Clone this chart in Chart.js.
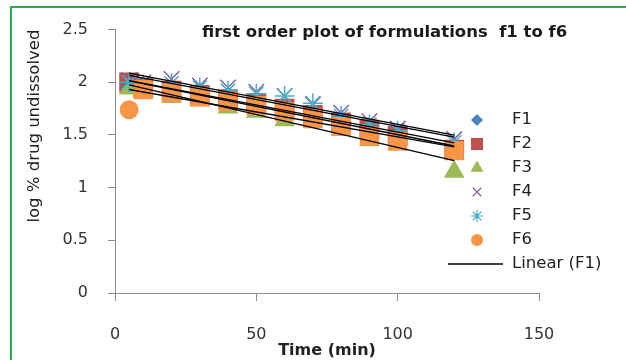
<!DOCTYPE html>
<html>
<head>
<meta charset="utf-8">
<script src="https://cdn.jsdelivr.net/npm/chart.js@4.4.1/dist/chart.umd.min.js"></script>
<style>
    body { margin: 0; background: #fff; overflow: hidden; }
    #dissChart { display: block; }
</style>
</head>
<body>
<canvas id="dissChart" width="626" height="360"></canvas>
<script>
// sampling times (min)
const times = [5, 10, 20, 30, 40, 50, 60, 70, 80, 90, 100, 120];

// log % drug undissolved for each formulation
const f1 = [2.00, 1.96, 1.93, 1.89, 1.85, 1.81, 1.76, 1.71, 1.64, 1.57, 1.51, 1.40];
const f2 = [2.00, 1.95, 1.92, 1.88, 1.84, 1.80, 1.75, 1.69, 1.62, 1.55, 1.49, 1.36];
const f3 = [1.94, 1.92, 1.86, 1.83, 1.76, 1.72, 1.64, 1.62, 1.55, 1.45, 1.42, 1.15];
const f4 = [2.02, 2.00, 2.03, 1.97, 1.95, 1.91, 1.87, 1.79, 1.71, 1.63, 1.56, 1.46];
const f5 = [2.00, 1.98, 1.99, 1.95, 1.92, 1.89, 1.87, 1.80, 1.68, 1.60, 1.54, 1.43];
const f6 = [1.74, 1.93, 1.90, 1.86, 1.82, 1.78, 1.72, 1.66, 1.58, 1.49, 1.44, 1.35];

const seriesNames = ['F1', 'F2', 'F3', 'F4', 'F5', 'F6'];
const seriesValues = [f1, f2, f3, f4, f5, f6];

const xTicks = [0, 50, 100, 150];
const yTicks = [0, 0.5, 1, 1.5, 2, 2.5];

const FONT = "'DejaVu Sans', sans-serif";

// marker look per formulation (F6 starts with a circle, then squares)
const markers = [
    { color: '#4f81bd', style: 'rectRot', radius: 9 },
    { color: '#c0504d', style: 'rect', radius: 14 },
    { color: '#9bbb59', style: 'triangle', radius: 12 },
    { color: '#8064a2', style: 'crossRot', radius: 11 },
    { color: '#4bacc6', style: 'star', radius: 10 },
    {
        color: '#f79646',
        style: times.map((_, j) => j === 0 ? 'circle' : 'rect'),
        radius: times.map((_, j) => j === 0 ? 9.5 : 13.5)
    }
];

// LEAST SQUARES LINE
function fitLine(xs, ys) {
    let n = xs.length;
    let mx = xs.reduce((a, b) => a + b, 0) / n;
    let my = ys.reduce((a, b) => a + b, 0) / n;
    let sxy = 0, sxx = 0;
    for (let i = 0; i < n; i++) {
        sxy += (xs[i] - mx) * (ys[i] - my);
        sxx += (xs[i] - mx) * (xs[i] - mx);
    }
    let slope = sxy / sxx;
    return { slope: slope, intercept: my - slope * mx };
}

const pointSets = seriesValues.map((vals, i) => ({
    label: seriesNames[i],
    data: times.map((t, j) => ({ x: t, y: vals[j] })),
    backgroundColor: markers[i].color,
    borderColor: markers[i].color,
    pointStyle: markers[i].style,
    pointRadius: markers[i].radius,
    pointBorderWidth: markers[i].style === 'crossRot' || markers[i].style === 'star' ? 1.5 : 0,
    order: 7 - i
}));

const trendSets = seriesValues.map((vals, i) => {
    let fit = fitLine(times, vals);
    let t0 = times[0];
    let t1 = times[times.length - 1];
    return {
        label: 'Linear (' + seriesNames[i] + ')',
        data: [
            { x: t0, y: fit.intercept + fit.slope * t0 },
            { x: t1, y: fit.intercept + fit.slope * t1 }
        ],
        showLine: true,
        borderColor: '#000',
        borderWidth: 1.3,
        pointRadius: 0,
        order: 0
    };
});

// green frame around the picture
const frame = {
    id: 'frame',
    beforeDraw(chart) {
        const ctx = chart.ctx;
        ctx.save();
        ctx.strokeStyle = '#22b14c';
        ctx.lineWidth = 2;
        ctx.beginPath();
        ctx.moveTo(11, chart.height);
        ctx.lineTo(11, 7);
        ctx.lineTo(chart.width, 7);
        ctx.stroke();
        ctx.restore();
    }
};

// title and legend drawn in the spots Excel puts them
const decorations = {
    id: 'decorations',
    afterDraw(chart) {
        const ctx = chart.ctx;
        ctx.save();
        ctx.fillStyle = '#1a1a1a';
        ctx.font = 'bold 16.5px ' + FONT;
        ctx.textBaseline = 'middle';
        ctx.textAlign = 'left';
        ctx.fillText('first order plot of formulations  f1 to f6', 202, 33);

        const legendX = 477;
        const textX = 512;
        let y = 120;
        ctx.font = '16.5px ' + FONT;
        markers.forEach((m, i) => {
            ctx.fillStyle = m.color;
            ctx.strokeStyle = m.color;
            ctx.lineWidth = 1.2;
            let style = Array.isArray(m.style) ? m.style[0] : m.style;
            let r = style === 'rect' ? 8.5 : (style === 'triangle' ? 7.5 : 6);
            let bw = (style === 'crossRot' || style === 'star') ? 1.2 : 0;
            Chart.helpers.drawPoint(ctx, { pointStyle: style, radius: r, rotation: 0, borderWidth: bw }, legendX, y);
            ctx.fillStyle = '#222';
            ctx.fillText(seriesNames[i], textX, y);
            y += 24;
        });
        ctx.strokeStyle = '#000';
        ctx.lineWidth = 1.5;
        ctx.beginPath();
        ctx.moveTo(448, y);
        ctx.lineTo(503, y);
        ctx.stroke();
        ctx.fillStyle = '#222';
        ctx.fillText(trendSets[0].label, textX, y);
        ctx.restore();
    }
};

const ctx = document.getElementById('dissChart');

new Chart(ctx, {
    type: 'scatter',
    data: { datasets: trendSets.concat(pointSets) },
    options: {
        responsive: false,
        animation: false,
        layout: { padding: { top: 28, right: 87, bottom: 0, left: 0 } },
        plugins: {
            legend: { display: false },
            tooltip: { enabled: false }
        },
        scales: {
            x: {
                min: xTicks[0],
                max: xTicks[xTicks.length - 1],
                afterBuildTicks: (scale) => { scale.ticks = xTicks.map(v => ({ value: v })); },
                afterFit: (scale) => { scale.height = 67; },
                border: { color: '#8c8c8c', width: 1 },
                grid: { drawOnChartArea: false, tickLength: 8, color: '#8c8c8c' },
                ticks: {
                    color: '#333', padding: 24,
                    font: { family: FONT, size: 16 },
                    callback: (v) => String(v)
                },
                title: {
                    display: true,
                    text: 'Time (min)',
                    color: '#222',
                    padding: { top: 0, bottom: 0 },
                    font: { family: FONT, size: 16, weight: 'bold' }
                }
            },
            y: {
                min: yTicks[0],
                max: yTicks[yTicks.length - 1],
                afterBuildTicks: (scale) => { scale.ticks = yTicks.map(v => ({ value: v })); },
                afterFit: (scale) => { scale.width = 115; },
                border: { color: '#8c8c8c', width: 1 },
                grid: { drawOnChartArea: false, tickLength: 7, color: '#8c8c8c' },
                ticks: {
                    color: '#333', padding: 20,
                    font: { family: FONT, size: 16 },
                    callback: (v) => String(v)
                },
                title: {
                    display: true,
                    text: 'log % drug undissolved',
                    align: 'end',
                    color: '#222',
                    padding: { top: 25, bottom: 0 },
                    font: { family: FONT, size: 16.5 }
                }
            }
        }
    },
    plugins: [frame, decorations]
});
</script>
</body>
</html>
